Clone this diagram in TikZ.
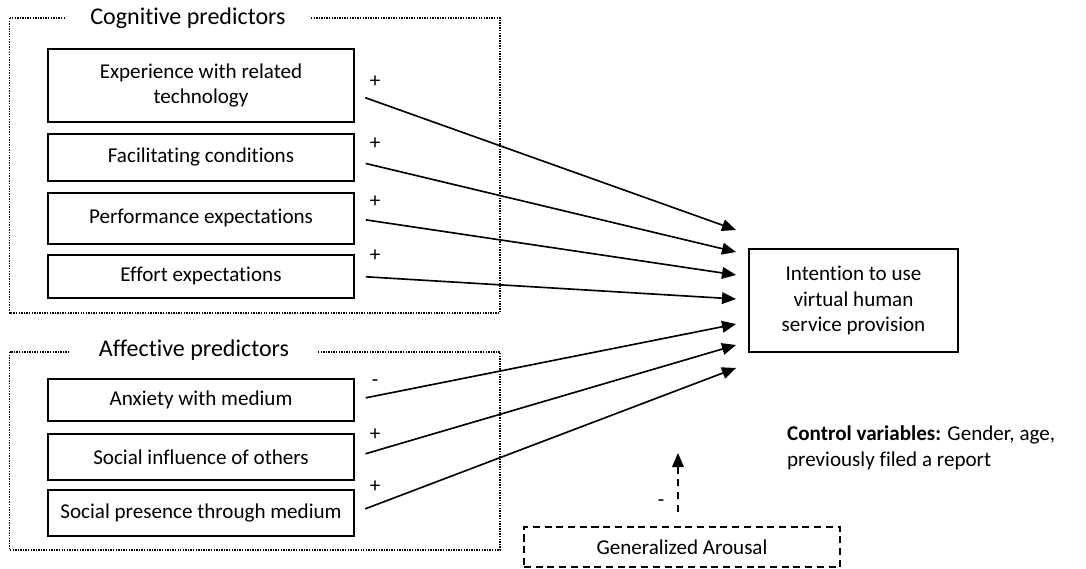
\documentclass[tikz,border=0pt]{standalone}
\usepackage{fontspec}
\setmainfont{Carlito}[Ligatures=NoCommon]
\usetikzlibrary{arrows.meta,positioning}

\begin{document}
\begin{tikzpicture}[x=0.03cm, y=-0.03cm,
        box/.style={rectangle, draw, line width=1.6pt, minimum width=9.18cm, align=center, font=\fontsize{18}{22}\selectfont},
        group/.style={line width=1.2pt, densely dotted},
        title/.style={fill=white, minimum width=7.4cm, font=\fontsize{20.5}{24}\selectfont},
        sign/.style={font=\fontsize{18}{22}\selectfont},
        arr/.style={-{Triangle[length=12pt, width=10pt]}, line width=1.4pt, shorten <=0.33cm}]
        \useasboundingbox (0,0) rectangle (1086,569);

        % cognitive predictors
        \draw[group] (9.5,18) rectangle (500,313);
        \node [title] (cog) at (188,18) {Cognitive predictors};
        \node [box, minimum height=2.19cm] (exp) at (201,85.5) {Experience with related\\technology};
        \node [box, minimum height=1.41cm, below=0.3cm of exp] (fac) {Facilitating conditions};
        \node [box, minimum height=1.53cm, below=0.3cm of fac] (perf) {Performance expectations};
        \node [box, minimum height=1.29cm, below=0.27cm of perf] (eff) {Effort expectations};

        % affective predictors
        \draw[group] (9.5,352) rectangle (500,550);
        \node [title] (aff) at (194,350) {Affective predictors};
        \node [box, minimum height=1.26cm] (anx) at (201,400) {Anxiety with medium};
        \node [box, minimum height=1.38cm, below=0.33cm of anx] (soc) {Social influence of others};
        \node [box, minimum height=1.38cm, below=0.24cm of soc] (pres) {Social presence through medium};

        % outcome
        \node [box, minimum width=6.27cm, minimum height=3.09cm] (int) at (853.5,300.5) {Intention to use\\virtual human\\service provision};
        \node [align=left, anchor=west, font=\fontsize{18}{22}\selectfont] (ctrl) at (783,447.5) {\textbf{Control variables:} Gender, age,\\previously filed a report};

        % generalized arousal
        \node [box, dash pattern=on 6pt off 4pt, line width=1.3pt, minimum width=9.48cm, minimum height=1.2cm] (arou) at (682,547) {Generalized Arousal};
        \coordinate (up) at (678,453);

        \path[arr] ([yshift=-0.255cm]exp.east) edge ([yshift=2.115cm, xshift=-0.36cm]int.west);
        \path[arr] ([yshift=-0.105cm]fac.east) edge ([yshift=1.455cm, xshift=-0.36cm]int.west);
        \path[arr] (perf.east) edge ([yshift=0.765cm, xshift=-0.36cm]int.west);
        \path[arr] (eff.east) edge ([yshift=0.045cm, xshift=-0.36cm]int.west);
        \path[arr] (anx.east) edge ([yshift=-0.705cm, xshift=-0.36cm]int.west);
        \path[arr] (soc.east) edge ([yshift=-1.335cm, xshift=-0.36cm]int.west);
        \path[arr] (pres.east) edge ([yshift=-2.025cm, xshift=-0.36cm]int.west);

        \path[arr, line width=1.2pt, dash pattern=on 6pt off 5pt, shorten <=0.42cm] ([xshift=-0.12cm]arou.north) edge (up);

        \node [sign] (s1) at (375,82) {+};
        \node [sign] (s2) at (375,144) {+};
        \node [sign] (s3) at (375,202) {+};
        \node [sign] (s4) at (375,256) {+};
        \node [sign] (s5) at (375,383) {-};
        \node [sign] (s6) at (375,435) {+};
        \node [sign] (s7) at (375,487) {+};
        \node [sign] (s8) at (661,503) {-};
    \end{tikzpicture}
\end{document}
